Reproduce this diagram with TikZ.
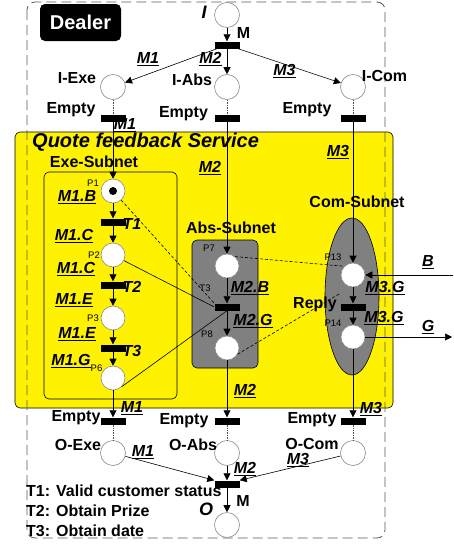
\documentclass[tikz,border=0pt]{standalone}
\usepackage{fontspec}
\setmainfont{Liberation Sans}
\usetikzlibrary{arrows.meta}
\begin{document}
\begin{tikzpicture}[x=1pt,y=-1pt,
  place/.style={circle,draw=black!45,fill=white,minimum size=25pt,inner sep=0pt,line width=0.6pt},
  iplace/.style={place,minimum size=24pt},
  bar/.style={rectangle,fill=black,minimum width=25pt,minimum height=7pt,inner sep=0pt},
  lbl/.style={font=\fontsize{16}{18}\selectfont\bfseries,inner sep=0pt},
  ml/.style={font=\fontsize{16}{18}\selectfont\bfseries\itshape,inner sep=0pt},
  sl/.style={font=\fontsize{9.5}{11}\selectfont,inner sep=0pt},
  arr/.style={-{Triangle[length=7pt,width=7pt]},line width=0.6pt},
  ln/.style={line width=0.6pt},
  dot/.style={densely dotted,line width=0.7pt,draw=black!70},
  dsh/.style={dash pattern=on 3pt off 2pt,line width=0.6pt},
]
\useasboundingbox (0,0) rectangle (453,546);
% service box
\draw[fill=yellow,line width=0.6pt,rounded corners=5pt] (15,132) rectangle (393,408);
% dealer dashed box
\draw[dash pattern=on 10pt off 5pt,line width=0.8pt,draw=black!65,rounded corners=8pt] (27,2) rectangle (385,538);
% subnets
\draw[fill=yellow,line width=0.6pt,rounded corners=5pt] (44,172) rectangle (177,399);
\draw[fill=black!50,line width=0.6pt,rounded corners=5pt] (192,240) rectangle (258,368);
\draw[fill=black!50,line width=0.6pt] (352,296.5) ellipse [x radius=27pt,y radius=78.5pt];

\node[fill=black,rounded corners=5pt,minimum width=81pt,minimum height=37pt,text=white,
  font=\fontsize{20}{22}\selectfont\bfseries] (dealer) at (80.5,22.5) {Dealer};

% places and transitions
\node[place] (I) at (227,15) {};
\node[bar] (tM) at (227,45) {};
\node[place] (iexe) at (113,87) {};
\node[place] (iabs) at (227,87) {};
\node[place] (icom) at (353,87) {};
\node[bar] (e1) at (113,118) {};
\node[bar] (e2) at (227,118) {};
\node[bar] (e3) at (353,118) {};
\node[iplace] (p1) at (113,191) {};
\node[bar] (t1) at (113,222) {};
\node[iplace] (p2) at (113,255) {};
\node[bar] (t2) at (113,285) {};
\node[iplace] (p3) at (113,318) {};
\node[bar] (t3) at (113,348) {};
\node[iplace] (p6) at (113,378) {};
\node[iplace] (p7) at (227,266) {};
\node[bar] (t3b) at (227,307) {};
\node[iplace] (p8) at (227,348) {};
\node[iplace] (p13) at (353,275) {};
\node[bar] (rep) at (353,307) {};
\node[iplace] (p14) at (353,337) {};
\node[bar] (f1) at (113,421) {};
\node[bar] (f2) at (227,421) {};
\node[bar] (f3) at (353,421) {};
\node[place] (oexe) at (113,453) {};
\node[place] (oabs) at (227,453) {};
\node[place] (ocom) at (353,453) {};
\node[bar] (tO) at (227,484) {};
\node[place] (O) at (227,525) {};
\fill (p1.center) circle[radius=4pt];
\coordinate (bin) at (453,275);
\coordinate (gout) at (452,337);

% connectors
\draw[arr] (I) -- (tM);
\draw[arr] (tM) -- (iexe);
\draw[arr] (tM) -- (iabs);
\draw[arr] (tM) -- (icom);
\draw[dot] (iexe) -- (e1);
\draw[dot] (iabs) -- (e2);
\draw[dot] (icom) -- (e3);
\draw[arr] (e1) -- (p1);
\draw[arr] (e2) -- (p7);
\draw[arr] (e3) -- (p13);
\draw[arr] (p1) -- (t1);
\draw[arr] (t1) -- (p2);
\draw[arr] (p2) -- (t2);
\draw[arr] (t2) -- (p3);
\draw[arr] (p3) -- (t3);
\draw[arr] (t3) -- (p6);
\draw[arr] (p7) -- (t3b);
\draw[arr] (t3b) -- (p8);
\draw[arr] (p13) -- (rep);
\draw[arr] (rep) -- (p14);
\draw[arr] (bin) -- (p13);
\draw[arr] (p14) -- (gout);
\draw[dsh] (p1) -- (t3b.north west);
\draw[ln] (p2) -- (t3b.west);
\draw[ln] (t3b.south) -- (p6.south east);
\draw[dsh] (p7.50) -- (p13.north west);
\draw[dsh] (p8.-30) -- ([yshift=10pt]rep.north west);
\draw[arr] (p6) -- (f1);
\draw[arr] (p8) -- (f2);
\draw[arr] (p14) -- (f3);
\draw[dot] (f1) -- (oexe);
\draw[dot] (f2) -- (oabs);
\draw[dot] (f3) -- (ocom);
\draw[arr] (oexe) -- (tO.north west);
\draw[arr] (oabs) -- (tO);
\draw[arr] (ocom) -- (tO.north east);
\draw[arr] (tO) -- (O);

% labels
\node[font=\fontsize{18}{20}\selectfont\bfseries\itshape,inner sep=0pt] at (204,12) {I};
\node[lbl] at (243.5,33) {M};
\node[ml] at (148,59) {\underline{M1}};
\node[ml] at (210.5,59) {\underline{M2}};
\node[ml] at (284.5,71) {\underline{M3}};
\node[lbl] at (77,78) {I-Exe};
\node[lbl] at (192,80) {I-Abs};
\node[lbl] at (384.5,76) {I-Com};
\node[lbl] at (71,110) {Empty};
\node[lbl] at (183.5,113.5) {Empty};
\node[lbl] at (307,110) {Empty};
\node[ml] at (125,125) {\underline{M1}};
\node[font=\fontsize{20}{22}\selectfont\bfseries\itshape,inner sep=0pt,anchor=west] at (32,142.5) {Quote feedback Service};
\node[ml] at (210,168) {\underline{M2}};
\node[ml] at (338,152) {\underline{M3}};
\node[lbl] at (357,202) {Com-Subnet};
\node[lbl] at (231,228) {Abs-Subnet};
\node[lbl] at (94,162) {Exe-Subnet};
\node[sl] at (93,183) {P1};
\node[sl] at (94,255) {P2};
\node[sl] at (93,318) {P3};
\node[sl] at (96.5,368) {P6};
\node[sl] at (209,248) {P7};
\node[sl] at (205,288) {T3};
\node[sl] at (207,334) {P8};
\node[sl] at (333,257) {P13};
\node[sl] at (333,323) {P14};
\node[ml] at (77,197) {\underline{M1.B}};
\node[ml] at (132,224) {T1};
\node[ml] at (74,236) {\underline{M1.C}};
\node[ml] at (76,269) {\underline{M1.C}};
\node[ml] at (132,287) {T2};
\node[ml] at (74,300) {\underline{M1.E}};
\node[ml] at (77,334) {\underline{M1.E}};
\node[ml] at (132,351) {T3};
\node[ml] at (71,361) {\underline{M1.G}};
\node[ml] at (250,288) {\underline{M2.B}};
\node[ml] at (253,321) {\underline{M2.G}};
\node[ml] at (245,391) {\underline{M2}};
\node[lbl] at (315,304) {Reply};
\node[ml] at (385,288) {\underline{M3.G}};
\node[ml] at (384,318) {\underline{M3.G}};
\node[ml] at (428,262) {\underline{B}};
\node[ml] at (428,327) {\underline{G}};
\node[ml] at (132,408) {\underline{M1}};
\node[ml] at (371,409) {\underline{M3}};
\node[lbl] at (76,418) {Empty};
\node[lbl] at (184,421) {Empty};
\node[lbl] at (312,420) {Empty};
\node[lbl] at (78,445) {O-Exe};
\node[lbl] at (193,445) {O-Abs};
\node[lbl] at (312,444) {O-Com};
\node[ml] at (143,452) {\underline{M1}};
\node[ml] at (245,469) {\underline{M2}};
\node[ml] at (298,460) {\underline{M3}};
\node[lbl] at (243,501) {M};
\node[font=\fontsize{18}{20}\selectfont\bfseries\itshape,inner sep=0pt] at (206,509) {O};
\node[lbl,anchor=west] at (26,491) {T1: Valid customer status};
\node[lbl,anchor=west] at (26,511) {T2: Obtain Prize};
\node[lbl,anchor=west] at (26,531) {T3: Obtain date};
\end{tikzpicture}
\end{document}
